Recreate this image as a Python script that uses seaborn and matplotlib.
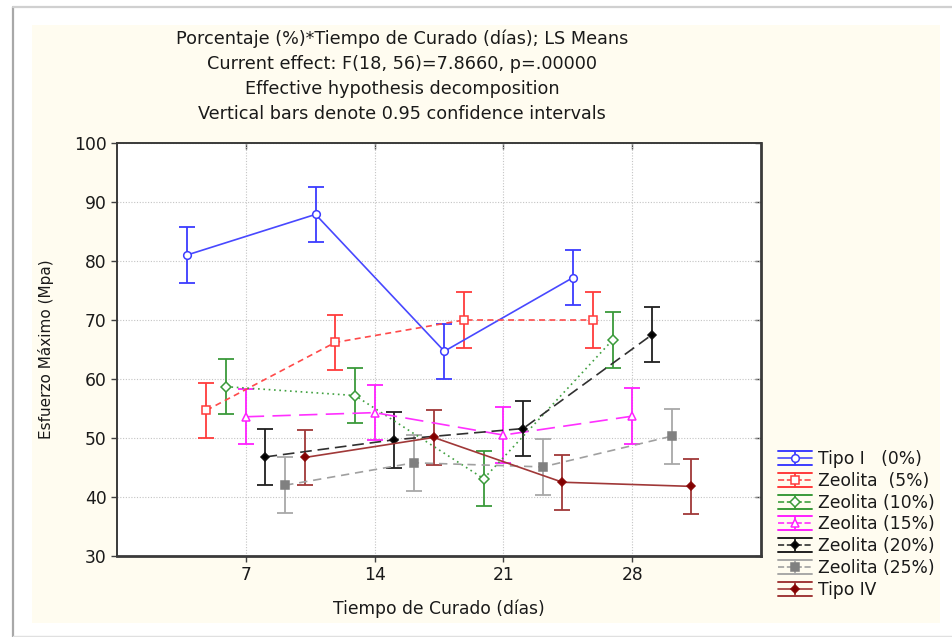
import matplotlib
matplotlib.use("Agg")
import matplotlib.pyplot as plt
import matplotlib.lines as mlines
from matplotlib.patches import Rectangle
from matplotlib.legend_handler import HandlerBase
import numpy as np
import pandas as pd
import seaborn as sns

# ---------------- data ----------------
days = [7, 14, 21, 28]
series_names = ["Tipo I   (0%)", "Zeolita  (5%)", "Zeolita (10%)", "Zeolita (15%)",
                "Zeolita (20%)", "Zeolita (25%)", "Tipo IV"]
tipo_i = [81.0, 87.9, 64.7, 77.2]
zeo_5 = [54.7, 66.2, 70.0, 70.0]
zeo_10 = [58.7, 57.2, 43.1, 66.6]
zeo_15 = [53.6, 54.3, 50.5, 53.7]
zeo_20 = [46.8, 49.7, 51.6, 67.5]
zeo_25 = [42.0, 45.8, 45.1, 50.3]
tipo_iv = [46.7, 50.1, 42.5, 41.8]
ci_half = [4.7, 4.7, 4.7, 4.7, 4.7, 4.7, 4.7]
x_ticks = [7, 14, 21, 28]
y_ticks = [30, 40, 50, 60, 70, 80, 90, 100]

values = [tipo_i, zeo_5, zeo_10, zeo_15, zeo_20, zeo_25, tipo_iv]

# ---------------- styles ----------------
colors = ["#3c3cff", "#ff3b3b", "#3a9a3a", "#ff20ff", "#101010", "#808080", "#8a0a0a"]
ecolors = ["#3c3cff", "#ff3b3b", "#3a9a3a", "#ff20ff", "#202020", "#a8a8a8", "#a03838"]
lcolors = ["#4848ff", "#ff4a4a", "#40a040", "#ff30ff", "#303030", "#a0a0a0", "#a03838"]
markers = ["o", "s", "D", "^", "D", "s", "D"]
mfaces = ["white", "white", "white", "white", "#000000", "#808080", "#800000"]
msizes = [5.5, 5.5, 5.0, 5.5, 4.5, 5.5, 4.5]
linestyles = ["-", (0, (3.6, 2.6)), (0, (1.0, 2.2)), (0, (11, 5)), (0, (7, 3.5)),
              (0, (5, 3.5)), "-"]
dodge_step = 1.07

font_main = ["DejaVu Sans"]
fs = 12.3

sns.set_theme(style="white")
plt.rcParams["font.family"] = font_main

fig = plt.figure(figsize=(9.53, 6.37), dpi=100)
fig.patch.set_facecolor("white")

# cream panel and outer frame
fig.patches.append(Rectangle((32 / 953, 14 / 637), 908 / 953, 598 / 637,
                             transform=fig.transFigure, facecolor="#fffcf0",
                             edgecolor="none", zorder=-10))
fig.add_artist(mlines.Line2D([13 / 953, 13 / 953], [0, 1 - 7 / 637],
                             transform=fig.transFigure, color="#a8a8a8", lw=1.6))
fig.add_artist(mlines.Line2D([13 / 953, 1], [1 - 7 / 637, 1 - 7 / 637],
                             transform=fig.transFigure, color="#d0d0d0", lw=1.6))
fig.add_artist(mlines.Line2D([13 / 953, 1], [1 / 637, 1 / 637],
                             transform=fig.transFigure, color="#e0e0e0", lw=1.0))

ax = fig.add_axes([117 / 953, 81 / 637, 644 / 953, 413 / 637])
ax.set_facecolor("white")

rows = []
for i, (name, vals) in enumerate(zip(series_names, values)):
    for d, v in zip(days, vals):
        rows.append({"series": name, "idx": i, "x": d + (i - 3) * dodge_step, "y": v})
df = pd.DataFrame(rows)

for i, name in enumerate(series_names):
    sub = df[df["series"] == name]
    ax.errorbar(sub["x"], sub["y"], yerr=ci_half[i], fmt="none", ecolor=ecolors[i],
                elinewidth=1.3, capsize=5.8, capthick=1.3, zorder=2)
    sns.lineplot(data=sub, x="x", y="y", ax=ax, color=lcolors[i], lw=1.2,
                 linestyle=linestyles[i], marker=markers[i], markersize=msizes[i],
                 markerfacecolor=mfaces[i], markeredgecolor=colors[i],
                 markeredgewidth=1.1, errorbar=None, legend=False, zorder=3)

ax.set_xlim(0, 35)
ax.set_ylim(30, 100)
ax.set_xticks(x_ticks)
ax.set_yticks(y_ticks)
ax.set_xticklabels([str(t) for t in x_ticks])
ax.set_yticklabels([str(t) for t in y_ticks])
ax.grid(True, which="major", linestyle=(0, (1, 1.5)), color="#c4c4c4", lw=0.8)
ax.tick_params(axis="both", direction="out", length=4, width=1, color="#404040",
               labelsize=fs, labelcolor="#1a1a1a", left=True, bottom=True, pad=3.5)
for s in ax.spines.values():
    s.set_color("#3a3a3a")
    s.set_linewidth(1.4)
ax.spines["right"].set_linewidth(2.0)
ax.spines["bottom"].set_linewidth(2.0)

sec_x = ax.secondary_xaxis("top")
sec_x.set_xticks(x_ticks)
sec_x.tick_params(direction="in", length=4, width=1, color="#404040", labeltop=False)
sec_x.spines["top"].set_visible(False)
sec_y = ax.secondary_yaxis("right")
sec_y.set_yticks(y_ticks)
sec_y.tick_params(direction="in", length=4, width=1, color="#404040", labelright=False)
sec_y.spines["right"].set_visible(False)

ax.set_xlabel("Tiempo de Curado (días)", fontsize=fs, color="#1a1a1a", labelpad=11)
ax.set_ylabel("Esfuerzo Máximo (Mpa)", fontsize=11, color="#1a1a1a", labelpad=14)

title_lines = ["Porcentaje (%)*Tiempo de Curado (días); LS Means",
               "Current effect: F(18, 56)=7.8660, p=.00000",
               "Effective hypothesis decomposition",
               "Vertical bars denote 0.95 confidence intervals"]
title_y = [39, 64, 89, 114]
for t, yy in zip(title_lines, title_y):
    fig.text(402 / 953, 1 - yy / 637, t, ha="center", va="center", fontsize=12.7,
             color="#1a1a1a")


# ---------------- legend ----------------
class StatHandler(HandlerBase):
    def create_artists(self, legend, orig_handle, xdescent, ydescent, width, height,
                       fontsize, trans):
        x0, x1 = -xdescent, -xdescent + width
        y0, y1 = -ydescent, -ydescent + height
        ym = (y0 + y1) / 2
        xm = (x0 + x1) / 2
        ec = orig_handle.ecol
        arts = [
            mlines.Line2D([x0, x1], [y1, y1], color=ec, lw=1.4),
            mlines.Line2D([x0, x1], [y0, y0], color=ec, lw=1.4),
            mlines.Line2D([x0, x1], [ym, ym], color=orig_handle.get_color(), lw=1.2,
                          linestyle=orig_handle.get_linestyle()),
            mlines.Line2D([xm, xm], [y0, y1], color=ec, lw=1.3),
            mlines.Line2D([xm], [ym], marker=orig_handle.get_marker(), ls="none",
                          markersize=orig_handle.get_markersize(),
                          markerfacecolor=orig_handle.get_markerfacecolor(),
                          markeredgecolor=orig_handle.get_markeredgecolor(),
                          markeredgewidth=1.1),
        ]
        for a in arts:
            a.set_transform(trans)
        return arts


handles = []
for i, name in enumerate(series_names):
    h = mlines.Line2D([], [], color=lcolors[i], linestyle=linestyles[i],
                      marker=markers[i], markersize=msizes[i],
                      markerfacecolor=mfaces[i], markeredgecolor=colors[i])
    h.ecol = ecolors[i]
    handles.append(h)

leg = fig.legend(handles=handles, labels=series_names, loc="upper left",
                 bbox_to_anchor=(778 / 953, 1 - 450 / 637), frameon=False,
                 fontsize=fs, handlelength=2.0, handleheight=0.9,
                 labelspacing=0.22, handletextpad=0.35, borderpad=0,
                 borderaxespad=0, handler_map={mlines.Line2D: StatHandler()})
for t in leg.get_texts():
    t.set_color("#1a1a1a")

fig.savefig("out.png", dpi=100, facecolor="white")
